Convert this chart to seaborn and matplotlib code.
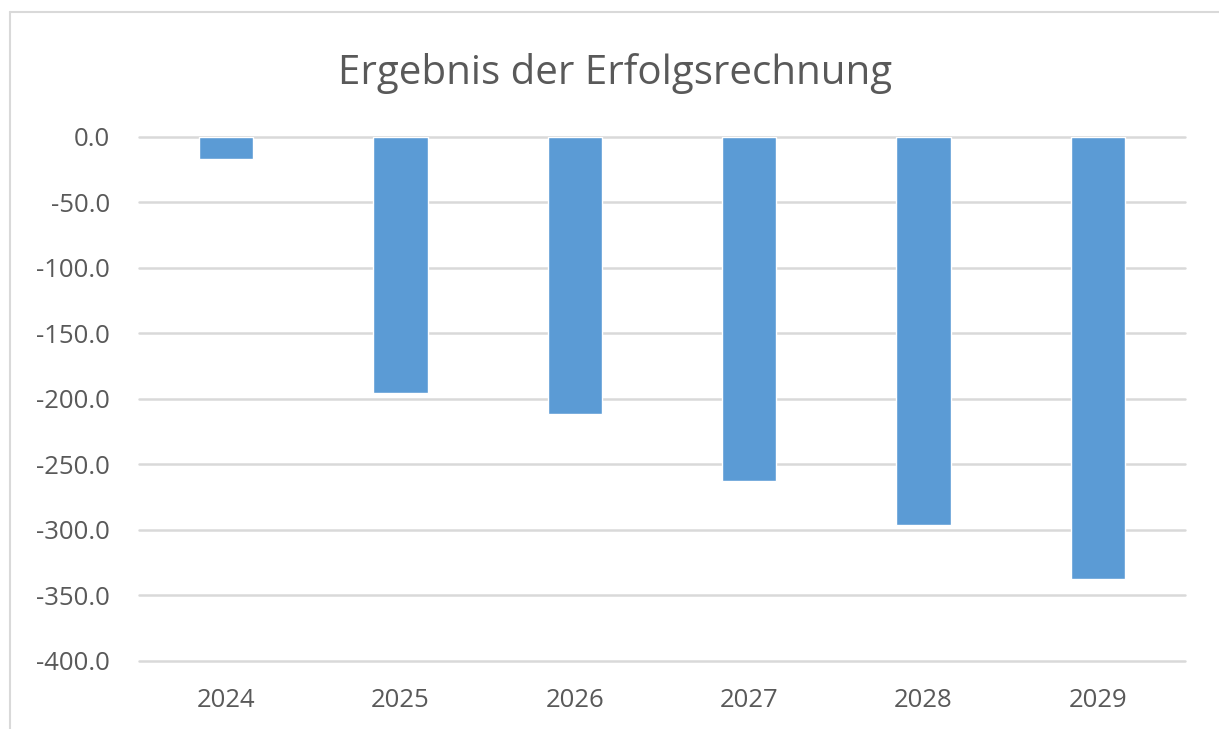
import pandas as pd
import seaborn as sns
import matplotlib.pyplot as plt
from matplotlib.lines import Line2D

# Werte
jahre = ["2024", "2025", "2026", "2027", "2028", "2029"]
ergebnis = [-16.5, -195.5, -211.5, -262.5, -296.0, -337.5]

df = pd.DataFrame({"Jahr": jahre, "Ergebnis": ergebnis})

sns.set_theme(style="white")
plt.rcParams["font.family"] = ["Open Sans", "DejaVu Sans"]

fig = plt.figure(figsize=(12.19, 7.29), dpi=100)
ax = fig.add_axes([139 / 1219, 1 - 660.7 / 729, (1185 - 139) / 1219, (660.7 - 137) / 729])

sns.barplot(data=df, x="Jahr", y="Ergebnis", color="#5b9bd5", saturation=1,
            width=0.31, ax=ax, zorder=3)

ax.set_ylim(-400, 0)
ax.set_xlim(-0.5, 5.5)
ax.set_yticks(range(-400, 1, 50))
ax.set_yticklabels([f"{v:.1f}" for v in range(-400, 1, 50)])
ax.yaxis.grid(True, color="#d9d9d9", linewidth=1.8, zorder=0)
ax.set_axisbelow(True)
for gl in ax.get_ygridlines():
    gl.set_clip_on(False)
for s in ax.spines.values():
    s.set_visible(False)
ax.tick_params(axis="both", length=0, labelsize=18.5, colors="#595959")
ax.tick_params(axis="y", pad=21)
ax.tick_params(axis="x", pad=20)
ax.set_xlabel("")
ax.set_ylabel("")

fig.text(615 / 1219, 1 - 73 / 729, "Ergebnis der Erfolgsrechnung", ha="center", va="center",
         fontsize=29, color="#595959")

# Rahmen des Diagrammbereichs
fig.add_artist(Line2D([10 / 1219, 10 / 1219], [0, 1 - 12 / 729], color="#d9d9d9", linewidth=1.5,
                      transform=fig.transFigure))
fig.add_artist(Line2D([10 / 1219, 1], [1 - 12 / 729, 1 - 12 / 729], color="#d9d9d9", linewidth=1.5,
                      transform=fig.transFigure))

fig.savefig("out.png", dpi=100)
